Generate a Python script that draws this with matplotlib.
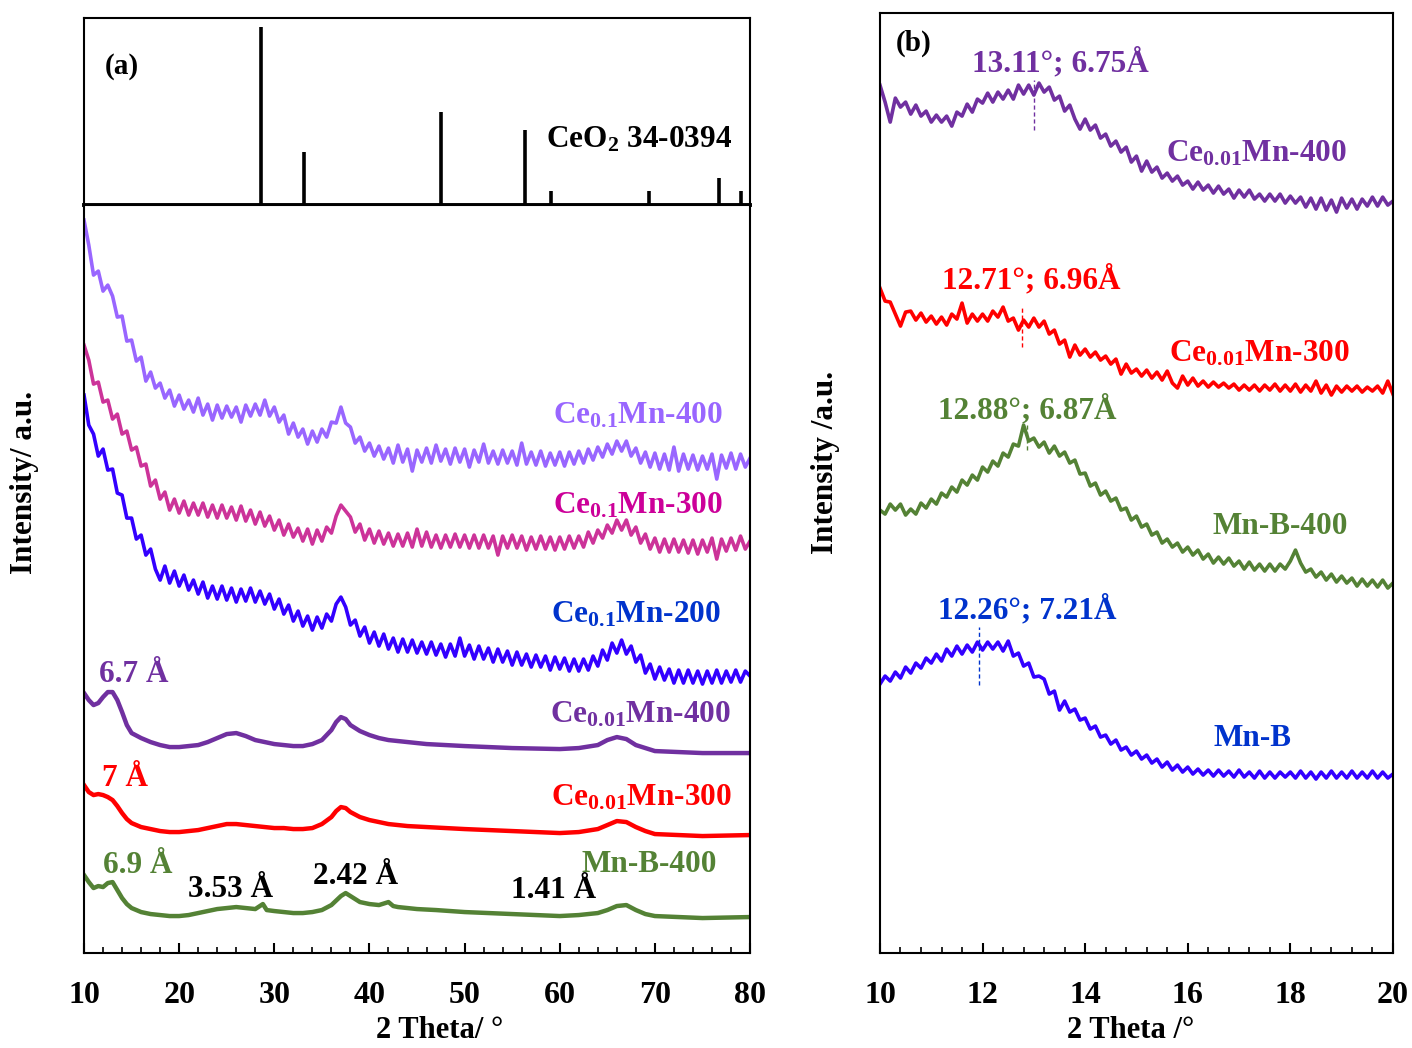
import matplotlib.pyplot as plt
import numpy as np

plt.rcParams['font.family'] = ['Liberation Serif', 'DejaVu Serif']
plt.rcParams['font.weight'] = 'bold'
plt.rcParams['mathtext.fontset'] = 'custom'
plt.rcParams['mathtext.rm'] = 'Liberation Serif:bold'
plt.rcParams['mathtext.bf'] = 'Liberation Serif:bold'
plt.rcParams['mathtext.it'] = 'Liberation Serif:bold'

# ---------------- data (a) ----------------
# CeO2 reference card 34-0394
ref_pos = [28.55, 33.08, 47.48, 56.33, 59.09, 69.40, 76.70, 79.07]
ref_int = [100, 30, 52, 42, 8, 8, 15, 8]

# 2theta grid of the noisy Ce0.1 patterns (0.5 deg step)
tt_a = np.arange(10, 80.01, 0.5)
ce01_400 = [733, 708, 678, 682, 662, 668, 657, 636, 637, 612, 613, 592, 596, 572, 581, 565, 570, 555,
            563, 547, 558, 544, 553, 541, 555, 538, 549, 533, 548, 535, 547, 536, 546, 531, 548, 537,
            549, 538, 553, 537, 546, 531, 538, 519, 530, 516, 524, 509, 522, 511, 524, 516, 531, 530,
            546, 530, 526, 510, 516, 502, 510, 497, 507, 494, 505, 490, 508, 491, 504, 482, 503, 491,
            505, 490, 508, 492, 504, 489, 505, 491, 504, 486, 503, 491, 509, 490, 502, 489, 503, 490,
            502, 488, 510, 489, 501, 488, 502, 487, 500, 488, 501, 487, 501, 489, 502, 490, 504, 493,
            506, 496, 509, 499, 512, 502, 512, 497, 505, 490, 501, 486, 500, 484, 499, 483, 506, 482,
            499, 484, 498, 483, 497, 484, 499, 474, 498, 485, 500, 484, 499, 486, 495]
ce01_300 = [608, 593, 569, 571, 551, 553, 534, 539, 519, 522, 503, 506, 487, 489, 467, 473, 454, 461,
            443, 454, 440, 452, 438, 450, 438, 450, 436, 448, 435, 448, 435, 446, 433, 447, 432, 443,
            429, 441, 427, 437, 423, 433, 418, 429, 416, 425, 412, 424, 409, 423, 412, 426, 420, 437,
            448, 442, 436, 421, 429, 413, 424, 410, 422, 409, 420, 407, 419, 407, 420, 406, 424, 407,
            421, 406, 418, 405, 418, 406, 419, 406, 418, 405, 418, 405, 418, 405, 417, 398, 417, 405,
            418, 405, 417, 403, 416, 404, 417, 404, 416, 403, 416, 404, 417, 405, 417, 406, 421, 410,
            423, 415, 428, 420, 433, 423, 433, 418, 426, 410, 419, 404, 415, 401, 414, 401, 414, 401,
            413, 400, 413, 399, 413, 401, 415, 394, 414, 402, 415, 403, 417, 404, 412]
ce01_200 = [558, 528, 519, 497, 504, 483, 484, 460, 458, 435, 435, 414, 418, 398, 404, 384, 373, 387,
            370, 382, 367, 378, 363, 373, 359, 371, 355, 367, 354, 367, 353, 365, 351, 364, 352, 365,
            351, 362, 349, 359, 344, 354, 339, 348, 332, 342, 327, 337, 323, 336, 325, 339, 332, 349,
            356, 346, 328, 333, 317, 326, 310, 321, 307, 319, 304, 315, 301, 314, 301, 313, 300, 311,
            299, 311, 298, 309, 296, 309, 297, 315, 297, 308, 294, 307, 294, 305, 291, 304, 291, 302,
            288, 301, 288, 299, 286, 298, 286, 297, 283, 296, 284, 295, 282, 294, 282, 294, 283, 297,
            287, 303, 293, 310, 300, 313, 299, 307, 291, 298, 280, 289, 274, 286, 273, 284, 270, 283,
            270, 283, 270, 282, 269, 282, 270, 283, 270, 282, 271, 283, 271, 282, 277]

# smoother Ce0.01 / Mn-B patterns
tt_b = [10, 10.5, 11, 11.5, 12, 12.5, 13, 13.5, 14, 14.5, 15, 16, 17, 18, 19, 20, 21, 22, 23, 24, 25,
        26, 27, 28, 29, 30, 31, 32, 33, 34, 35, 36, 36.5, 37, 37.5, 38, 39, 40, 41, 42, 44, 46, 48,
        50, 55, 60, 62, 64, 65, 66, 67, 68, 69, 70, 75, 80]
ce001_400 = [260, 253, 248, 250, 256, 261, 261, 253, 241, 228, 220, 215, 211, 208, 206, 206, 207, 208,
             211, 215, 219, 220, 217, 213, 211, 209, 208, 207, 207, 209, 213, 223, 231, 236, 234, 228,
             222, 218, 215, 213, 211, 209, 208, 207, 205, 204, 205, 208, 213, 216, 214, 208, 205, 202,
             200, 200]
ce001_300 = [168, 161, 158, 159, 158, 156, 153, 147, 140, 134, 130, 126, 124, 122, 121, 121, 122, 123,
             125, 127, 129, 129, 128, 127, 126, 125, 125, 124, 124, 125, 129, 136, 142, 146, 145, 141,
             136, 133, 131, 129, 127, 126, 125, 124, 122, 120, 121, 124, 128, 132, 131, 126, 122, 119,
             117, 118]
tt_c = [10, 10.5, 11, 11.5, 12, 12.5, 13, 13.5, 14, 14.5, 15, 16, 17, 18, 19, 20, 21, 22, 23, 24, 25,
        26, 27, 28, 28.8, 29.2, 30, 31, 32, 33, 34, 35, 36, 37, 37.5, 38, 39, 40, 41, 42, 42.5, 43,
        45, 47, 50, 55, 60, 62, 64, 65, 66, 67, 68, 69, 70, 75, 80]
mnb_400 = [78, 71, 65, 67, 66, 70, 71, 63, 55, 49, 45, 41, 39, 38, 37, 37, 38, 40, 42, 44, 45, 46, 45,
           44, 49, 43, 42, 41, 40, 40, 41, 43, 48, 57, 60, 57, 51, 49, 48, 51, 47, 46, 44, 43, 41, 39,
           37, 38, 40, 43, 47, 48, 43, 39, 37, 35, 36]

# ---------------- data (b) ----------------
tt_r = np.arange(10, 20.001, 0.1)
r_ce001_400 = [868, 851, 831, 855, 846, 851, 839, 848, 837, 842, 831, 838, 831, 837, 827, 841, 837, 849,
               841, 854, 850, 860, 851, 861, 854, 863, 854, 868, 859, 868, 858, 870, 861, 866, 853, 857,
               842, 848, 834, 824, 834, 823, 828, 815, 819, 807, 812, 801, 806, 791, 797, 782, 792, 781,
               786, 775, 780, 772, 777, 768, 772, 764, 771, 763, 768, 760, 767, 759, 764, 755, 763, 756,
               763, 754, 759, 752, 759, 752, 759, 750, 757, 750, 756, 746, 755, 744, 755, 743, 753, 741,
               755, 745, 754, 744, 754, 747, 756, 747, 756, 748, 752]
r_ce001_300 = [665, 652, 651, 639, 627, 641, 642, 633, 640, 631, 637, 629, 636, 628, 639, 634, 650, 630,
               639, 632, 639, 632, 642, 636, 646, 632, 635, 623, 633, 626, 635, 626, 632, 619, 623, 609,
               613, 596, 608, 598, 604, 596, 601, 593, 597, 589, 594, 579, 589, 580, 584, 577, 583, 575,
               581, 573, 582, 570, 565, 577, 568, 575, 567, 572, 566, 571, 566, 570, 565, 569, 563, 568,
               563, 568, 562, 568, 563, 569, 562, 568, 562, 569, 561, 568, 562, 572, 560, 568, 558, 567,
               561, 567, 562, 567, 561, 566, 562, 567, 560, 572, 559]
r_mnb_400 = [443, 439, 449, 443, 449, 438, 444, 439, 450, 445, 454, 449, 460, 456, 466, 461, 473, 468,
             478, 473, 486, 481, 492, 487, 500, 496, 509, 507, 528, 512, 515, 506, 511, 500, 507, 497,
             501, 490, 493, 479, 480, 467, 470, 458, 462, 452, 455, 443, 445, 433, 437, 426, 429, 418,
             421, 410, 414, 406, 410, 401, 406, 398, 403, 394, 399, 390, 396, 389, 395, 387, 392, 384,
             391, 383, 389, 382, 389, 382, 389, 384, 392, 403, 390, 381, 384, 376, 381, 373, 379, 371,
             377, 370, 375, 367, 374, 367, 373, 366, 373, 365, 370]
r_mnb = [269, 277, 272, 281, 275, 286, 280, 290, 285, 295, 290, 299, 292, 304, 297, 307, 299, 308, 301,
         311, 303, 311, 304, 311, 302, 312, 297, 300, 287, 290, 276, 277, 274, 259, 262, 243, 252, 241,
         244, 233, 235, 224, 227, 216, 218, 209, 213, 203, 206, 198, 202, 194, 198, 190, 194, 186, 191,
         183, 188, 181, 186, 179, 184, 178, 183, 177, 183, 177, 182, 176, 183, 176, 181, 175, 182, 175,
         181, 175, 181, 176, 181, 175, 182, 175, 181, 174, 181, 175, 182, 175, 181, 175, 182, 175, 181,
         175, 182, 175, 181, 175, 179]

# peak markers in (b): position, lower and upper intensity of the dashed mark
mark_pos = [13.00, 12.77, 12.86, 11.93]
mark_lo = [823, 606, 503, 268]
mark_hi = [873, 646, 530, 326]

c_lilac, c_mag, c_blue = '#9966FF', '#CC3399', '#3300FF'
c_purp, c_red, c_green = '#7030A0', '#FF0000', '#548235'

fig = plt.figure(figsize=(14.12, 10.48), dpi=100)
ax_ref = fig.add_axes([0.0595, 0.8044, 0.4717, 0.1784])
ax_a = fig.add_axes([0.0595, 0.0906, 0.4717, 0.7137])
ax_b = fig.add_axes([0.6232, 0.0906, 0.3633, 0.8969])

lw = 2.6
fs_lab = 22.5

# reference sticks
ax_ref.vlines(ref_pos, 0, ref_int, colors='k', lw=2.6)
ax_ref.set_xlim(10, 80)
ax_ref.set_ylim(0, 105)
ax_ref.set_xticks([])
ax_ref.set_yticks([])
for s in ax_ref.spines.values():
    s.set_linewidth(1.5)
ax_ref.spines['bottom'].set_linewidth(2.8)
ax_ref.text(0.057, 0.743, '(a)', transform=ax_ref.transAxes, fontsize=21, ha='center', va='center')
ax_ref.text(0.833, 0.305, r'CeO$_2$ 34-0394', transform=ax_ref.transAxes, fontsize=fs_lab,
            ha='center', va='baseline')

# panel (a)
ax_a.plot(tt_a, ce01_400, color=c_lilac, lw=lw)
ax_a.plot(tt_a, ce01_300, color=c_mag, lw=lw)
ax_a.plot(tt_a, ce01_200, color=c_blue, lw=lw)
ax_a.plot(tt_b, ce001_400, color=c_purp, lw=lw + 0.6)
ax_a.plot(tt_b, ce001_300, color=c_red, lw=lw + 0.6)
ax_a.plot(tt_c, mnb_400, color=c_green, lw=lw + 0.6)
ax_a.set_xlim(10, 80)
ax_a.set_ylim(0, 748)
ax_a.set_yticks([])
ax_a.set_xticks(range(10, 81, 10))
ax_a.set_xticks(range(10, 81, 2), minor=True)

labels_a = [(68.25, 530, r'Ce$_{0.1}$Mn-400', c_lilac),
            (68.25, 440, r'Ce$_{0.1}$Mn-300', '#CC0099'),
            (68.0, 331, r'Ce$_{0.1}$Mn-200', '#0033CC'),
            (68.45, 231, r'Ce$_{0.01}$Mn-400', c_purp),
            (68.6, 148, r'Ce$_{0.01}$Mn-300', c_red),
            (69.4, 81, 'Mn-B-400', c_green),
            (15.2, 271, '6.7 Å', c_purp),
            (14.3, 167, '7 Å', c_red),
            (15.6, 80, '6.9 Å', c_green),
            (25.4, 56, '3.53 Å', 'k'),
            (38.5, 69, '2.42 Å', 'k'),
            (59.3, 55, '1.41 Å', 'k')]
for x, y, t, c in labels_a:
    ax_a.text(x, y, t, color=c, fontsize=fs_lab, ha='center', va='baseline')

# panel (b)
ax_b.plot(tt_r, r_ce001_400, color=c_purp, lw=lw)
ax_b.plot(tt_r, r_ce001_300, color=c_red, lw=lw)
ax_b.plot(tt_r, r_mnb_400, color=c_green, lw=lw)
ax_b.plot(tt_r, r_mnb, color=c_blue, lw=lw)
ax_b.vlines(mark_pos, mark_lo, mark_hi, colors=[c_purp, c_red, c_green, '#0033CC'],
            lw=1.0, linestyles=(0, (3, 2)))
ax_b.set_xlim(10, 20)
ax_b.set_ylim(0, 940)
ax_b.set_yticks([])
ax_b.set_xticks(range(10, 21, 2))
ax_b.set_xticks(np.arange(10, 20.01, 0.4), minor=True)

labels_b = [(10.66, 910, '(b)', 'k', 'center'),
            (13.51, 882, '13.11°; 6.75Å', c_purp, 'baseline'),
            (17.33, 792, r'Ce$_{0.01}$Mn-400', c_purp, 'baseline'),
            (12.94, 665, '12.71°; 6.96Å', c_red, 'baseline'),
            (17.4, 592, r'Ce$_{0.01}$Mn-300', c_red, 'baseline'),
            (17.8, 419, 'Mn-B-400', c_green, 'baseline'),
            (12.88, 535, '12.88°; 6.87Å', c_green, 'baseline'),
            (12.88, 335, '12.26°; 7.21Å', '#0033CC', 'baseline'),
            (17.27, 207, 'Mn-B', '#0033CC', 'baseline')]
for x, y, t, c, va in labels_b:
    ax_b.text(x, y, t, color=c, fontsize=21 if t == '(b)' else fs_lab, ha='center', va=va)

for ax in (ax_a, ax_b):
    for s in ax.spines.values():
        s.set_linewidth(1.5)
    ax.tick_params(axis='x', which='major', direction='in', length=7, width=1.5,
                   labelsize=23, pad=20, top=False)
    ax.tick_params(axis='x', which='minor', direction='in', length=4, width=1.2, top=False)
    ax.tick_params(axis='y', left=False, right=False)

fig.text(440 / 1412, 1 - 1030 / 1048, '2 Theta/ °', fontsize=22, ha='center', va='center')
fig.text(1131 / 1412, 1 - 1030 / 1048, '2 Theta /°', fontsize=22, ha='center', va='center')
fig.text(25 / 1412, 1 - 482 / 1048, 'Intensity/ a.u.', fontsize=22.5, rotation=90, ha='center', va='center')
fig.text(825 / 1412, 1 - 462 / 1048, 'Intensity /a.u.', fontsize=22.5, rotation=90, ha='center', va='center')

fig.savefig('out.png', dpi=100)
